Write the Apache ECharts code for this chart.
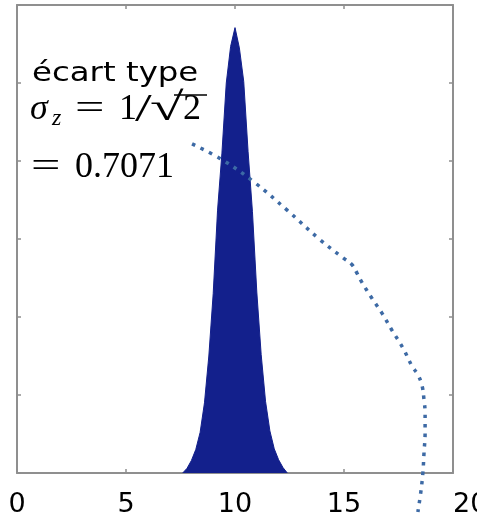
<!DOCTYPE html>
<html><head><meta charset="utf-8">
<script src="https://cdn.jsdelivr.net/npm/echarts@6/dist/echarts.min.js"></script>
<style>html,body{margin:0;padding:0;background:#fff}#c{width:477px;height:516px}</style>
</head><body><div id="c"></div>
<script>
// x-axis tick labels
const xTickLabels = [0, 5, 10, 15, 20];
// filled distribution (histogram envelope)
const distX = [7.6,7.8,8.0,8.2,8.4,8.6,8.8,9.0,9.2,9.4,9.6,9.8,10.0,10.2,10.4,10.6,10.8,11.0,11.2,11.4,11.6,11.8,12.0,12.2,12.4];
const distY = [0,0.06,0.16,0.30,0.52,0.90,1.50,2.30,3.37,4.10,5.00,5.47,5.71,5.45,5.02,4.12,3.35,2.32,1.52,0.92,0.54,0.31,0.17,0.07,0];
// dotted curve
const curveX = [8.03,9.45,10.92,12.39,13.90,14.95,15.37,15.60,15.83,16.28,16.74,17.20,17.71,18.12,18.39,18.58,18.67,18.72,18.72,18.67,18.62,18.53,18.39];
const curveY = [4.22,4.01,3.72,3.37,2.99,2.76,2.67,2.56,2.44,2.24,2.05,1.83,1.60,1.37,1.26,1.12,0.94,0.77,0.51,0.26,0.01,-0.23,-0.50];
// annotation texts
const noteTitle = 'écart type';
const noteValue = '0.7071';

const chart = echarts.init(document.getElementById('c'), null, {renderer:'canvas'});
const axisCol = '#8f8f8f';
const frameAxis = (pos, isX) => ({
  type:'value', position:pos, min:0, max: isX ? 20 : 6, interval: isX ? 5 : 1,
  axisLine:{show:true, onZero:false, lineStyle:{color:axisCol, width:2}},
  axisTick:{show:true, inside:true, length:4, lineStyle:{color:axisCol, width:1.5}},
  axisLabel:{show:false}, splitLine:{show:false}
});
const xBottom = frameAxis('bottom', true);
xBottom.axisLabel = {show:true, fontFamily:'DejaVu Sans', fontSize:27, color:'#000', margin:18,
  alignMaxLabel:'left', formatter:(v)=> xTickLabels.includes(v) ? String(v) : ''};
const serifR = '36px "Liberation Serif"';
const serifI = 'italic 36px "Liberation Serif"';
const t = (x, y, text, font, sx, sy) => ({type:'text', x:x, y:y, scaleX: sx || 1, scaleY: sy || 1, z:10,
  style:{x:0, y:0, text:text, font:font, fill:'#000', align:'left', verticalAlign:'middle', textAlign:'left', textVerticalAlign:'middle'}});
chart.setOption({
  animation:false,
  grid:{left:17, right:24, top:5, bottom:43, containLabel:false, outerBoundsMode:'none'},
  xAxis:[xBottom, frameAxis('top', true)],
  yAxis:[frameAxis('left', false), frameAxis('right', false)],
  series:[
    {type:'line', xAxisIndex:0, yAxisIndex:0, data: distX.map((x,i)=>[x, distY[i]]), symbol:'none',
     lineStyle:{width:1, color:'#13208c'}, itemStyle:{color:'#13208c'}, areaStyle:{color:'#13208c', opacity:1}, z:2},
    {type:'line', xAxisIndex:0, yAxisIndex:0, data: curveX.map((x,i)=>[x, curveY[i]]), symbol:'none', smooth:0.4, clip:false,
     lineStyle:{color:'#3d6aa5', width:3.5, type:[3.5,6], cap:'butt'}, z:3}
  ],
  graphic:[
    t(32, 74, noteTitle, '27px "DejaVu Sans"', 1.2),
    t(30, 110, 'σ', serifI),
    t(52, 119, 'z', 'italic 24px "Liberation Serif"'),
    t(75, 110, '=', serifR, 1.45),
    t(119, 110, '1', serifR),
    t(135, 110, '/', '40px "Liberation Serif"', 1.5),
    t(150, 110, '√', serifR, 1.7, 1.1),
    t(183, 110, '2', serifR),
    {type:'line', z:10, shape:{x1:174, y1:95, x2:207, y2:95}, style:{stroke:'#000', lineWidth:1.6}},
    t(31, 168, '=', serifR, 1.45),
    t(75, 168, noteValue, serifR)
  ]
});
</script></body></html>
